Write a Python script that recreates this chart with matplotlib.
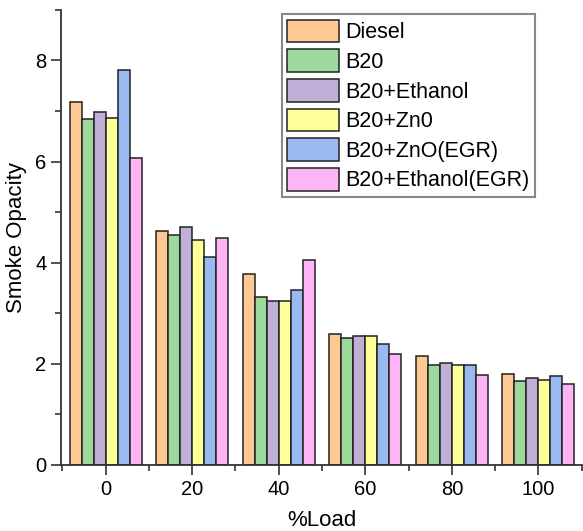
import matplotlib
matplotlib.use("Agg")
import matplotlib.pyplot as plt
import numpy as np
from matplotlib.ticker import MultipleLocator

plt.rcParams['font.family'] = ['Liberation Sans', 'DejaVu Sans']

loads = [0, 20, 40, 60, 80, 100]
series_names = ["Diesel", "B20", "B20+Ethanol", "B20+Zn0", "B20+ZnO(EGR)", "B20+Ethanol(EGR)"]
diesel = [7.18, 4.63, 3.78, 2.60, 2.16, 1.80]
b20 = [6.85, 4.54, 3.32, 2.51, 1.97, 1.66]
b20_ethanol = [6.99, 4.70, 3.24, 2.56, 2.01, 1.72]
b20_zno = [6.87, 4.45, 3.24, 2.56, 1.97, 1.69]
b20_zno_egr = [7.81, 4.11, 3.46, 2.39, 1.98, 1.76]
b20_ethanol_egr = [6.07, 4.48, 4.06, 2.20, 1.78, 1.61]
all_series = [diesel, b20, b20_ethanol, b20_zno, b20_zno_egr, b20_ethanol_egr]
colors = ["#FDC891", "#9DD89D", "#C0B0D8", "#FFFF99", "#99B9F0", "#FDB5F5"]

fig = plt.figure(figsize=(5.83, 5.31), dpi=100)
ax = fig.add_axes([0.1046, 0.1243, 1 - 0.1046, 0.857])

bw = 2.77
x = np.array(loads, dtype=float)
for i, (vals, name, c) in enumerate(zip(all_series, series_names, colors)):
    off = (i - 2.5) * bw
    ax.bar(x + off, vals, width=bw, color=c, edgecolor="#222222", linewidth=1.1,
           label=name, zorder=2)

ax.set_xlim(-10.3, 110.3)
ax.set_ylim(0, 9.0)
ax.set_xticks(loads)
ax.xaxis.set_minor_locator(MultipleLocator(10))
ax.yaxis.set_major_locator(MultipleLocator(2))
ax.yaxis.set_minor_locator(MultipleLocator(1))
ax.tick_params(axis='both', which='major', direction='out', length=7, width=1.2,
               labelsize=14.5, color="#333333")
ax.tick_params(axis='both', which='minor', direction='out', length=4, width=1.2,
               color="#333333")
ax.spines['top'].set_visible(False)
ax.spines['right'].set_visible(False)
for s in ('left', 'bottom'):
    ax.spines[s].set_linewidth(1.3)
    ax.spines[s].set_color("#333333")

ax.set_ylabel("Smoke Opacity", fontsize=16, labelpad=6)
ax.set_xlabel("%Load", fontsize=16, labelpad=8)

leg = ax.legend(loc="upper left", bbox_to_anchor=(0.415, 1.0), fontsize=15.5,
                handlelength=2.4, handleheight=1.25, handletextpad=0.3,
                labelspacing=0.28, borderpad=0.25, borderaxespad=0.2,
                fancybox=False, edgecolor="#888888", framealpha=1)
leg.get_frame().set_linewidth(1.5)

fig.savefig("out.png", dpi=100)
